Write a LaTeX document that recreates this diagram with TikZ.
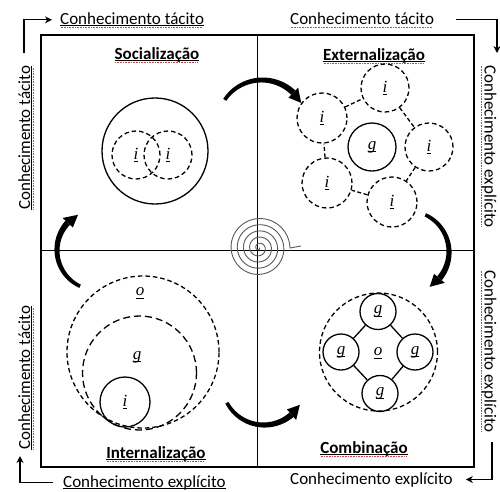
\documentclass[tikz,border=0pt]{standalone}
\usepackage{fontspec}
\setmainfont{Carlito}
\newfontfamily\serifit{Liberation Serif}
\usetikzlibrary{arrows.meta}
\definecolor{sp}{RGB}{200,70,70}
\newcommand\rdots[1]{\setbox0\hbox{#1}\rlap{\raisebox{-3.4pt}{\color{sp}\hbox to \wd0{\leaders\hbox to 1.6pt{\hss\rule{0.8pt}{0.7pt}\hss}\hfill}}}\box0}
\newcommand\bul[1]{\setbox0\hbox{#1}\rlap{\rule[-2pt]{\wd0}{0.6pt}}\box0}
\newcommand\ulit[1]{\setbox0\hbox{\serifit\itshape #1}\rlap{\rule[-2.5pt]{\wd0}{0.6pt}}\box0}
\newcommand\tarr[5]{%
  \pgfmathsetmacro\tad{sign((#5)-(#4))}%
  \pgfmathsetmacro\tae{#5+\tad*13/(#3)*57.2958}%
  \fill plot[domain=#4:#5,samples=40,variable=\t] ({#1+(#3+1.8+1.2*(\t-(#4))/((#5)-(#4)))*cos(\t)},{#2+(#3+1.8+1.2*(\t-(#4))/((#5)-(#4)))*sin(\t)})
     -- plot[domain=#5:#4,samples=40,variable=\t] ({#1+(#3-1.8-1.2*(\t-(#4))/((#5)-(#4)))*cos(\t)},{#2+(#3-1.8-1.2*(\t-(#4))/((#5)-(#4)))*sin(\t)}) -- cycle;
  \fill ({#1+(#3+7)*cos(#5)},{#2+(#3+7)*sin(#5)}) -- ({#1+(#3)*cos(\tae)},{#2+(#3)*sin(\tae)}) -- ({#1+(#3-7)*cos(#5)},{#2+(#3-7)*sin(#5)}) -- cycle;
}
\begin{document}
\begin{tikzpicture}[x=1pt,y=-1pt,
  lbl/.style={font=\fontsize{17}{20}\selectfont, inner sep=0pt},
  ttl/.style={font=\fontsize{17}{20}\selectfont\bfseries, inner sep=0pt, anchor=base},
  sc/.style={draw, circle, line width=1.3pt, inner sep=0pt, font=\fontsize{17}{20}\selectfont},
  dc/.style={sc, dash pattern=on 4.5pt off 3pt},
  lt/.style={inner sep=0pt, font=\fontsize{17}{20}\selectfont},
  arr/.style={line width=1.3pt, -{Stealth[length=7pt,width=7pt]}},
  frame/.style={line width=1.6pt}]
\useasboundingbox (0,0) rectangle (500,491);
\fill[white] (0,0) rectangle (500,491);

% frame
\draw[frame] (41,35) rectangle (474,467);
\draw[frame] (257.5,35) -- (257.5,467);
\draw[frame] (41,250.5) -- (474,250.5);

% outer labels
\node[lbl, anchor=base west] (tl) at (60,24) {\rdots{\bul{Conhecimento tácito}}};
\node[lbl, anchor=base west] (tr) at (290,24) {\rdots{Conhecimento tácito}};
\node[lbl, anchor=base west] (bl) at (63,487) {\bul{Conhecimento explícito}};
\node[lbl, anchor=base west] (br) at (290,484) {Conhecimento explícito};
\node[lbl, anchor=base west, rotate=90] (lt1) at (30,210) {\rdots{\bul{Conhecimento tácito}}};
\node[lbl, anchor=base west, rotate=90] (lt2) at (30,450) {\rdots{\bul{Conhecimento tácito}}};
\node[lbl, anchor=base west, rotate=-90] (rt1) at (484.5,65) {\rdots{Conhecimento explícito}};
\node[lbl, anchor=base west, rotate=-90] (rt2) at (484.5,270) {\rdots{Conhecimento explícito}};

\coordinate (tla) at (24,53);
\coordinate (tra) at (497,53);
\coordinate (brc) at (492,442);
\coordinate (bla) at (20,456);
\draw[arr] (tla) |- ([xshift=-8pt]tl.west);
\draw[arr] ([xshift=22pt]tr.east) -| (tra);
\draw[arr] (brc) |- ([xshift=13pt]br.east);
\draw[arr] ([xshift=-10pt]bl.west) -| (bla);

% titles
\node[ttl] (t1) at (157,59) {\rdots{\bul{Socialização}}};
\node[ttl] (t2) at (374,60) {\rdots{\bul{Externalização}}};
\node[ttl] (t3) at (156,458) {\rdots{\bul{Internalização}}};
\node[ttl] (t4) at (364,453) {\rdots{\bul{Combinação}}};

% Socializacao
\node[sc, minimum size=106pt] (s0) at (155,151) {};
\node[dc, minimum size=48pt] (s1) at (136,155) {\ulit{i}};
\node[dc, minimum size=48pt] (s2) at (168,155) {\ulit{i}};

% Externalizacao
\node[dc, minimum size=48pt] (e1) at (385,88) {\ulit{i}};
\node[dc, minimum size=50pt] (e2) at (322,118) {\ulit{i}};
\node[sc, minimum size=48pt] (eg) at (372,147) {\ulit{g}};
\node[dc, minimum size=48pt] (e3) at (429,147) {\ulit{i}};
\node[dc, minimum size=50pt] (e4) at (327,183) {\ulit{i}};
\node[dc, minimum size=50pt] (e5) at (392,202) {\ulit{i}};
\draw[line width=1.3pt, dash pattern=on 4pt off 2.5pt] (e2) -- (e1);
\draw[line width=1.3pt, dash pattern=on 4pt off 2.5pt] (e1) -- (e3);
\draw[line width=1.3pt, dash pattern=on 4pt off 2.5pt] (e3) -- (e5);
\draw[line width=1.3pt, dash pattern=on 4pt off 2.5pt] (e5) -- (e4);
\draw[line width=1.3pt, dash pattern=on 4pt off 2.5pt] (e4) -- (e2);

% Internalizacao
\node[dc, minimum size=152pt] (n0) at (143,352) {};
\node[dc, minimum size=114pt, dash pattern=on 7pt off 4pt] (n1) at (139.5,373) {};
\node[sc, minimum size=50pt] (n2) at (125,402) {\ulit{i}};
\node[lt] (no) at (140,293) {\ulit{o}};
\node[lt] (ng) at (137,357) {\ulit{g}};

% Combinacao
\node[dc, minimum size=118pt] (c0) at (378.5,352) {};
\node[sc, minimum size=36pt] (c1) at (378,311.5) {\ulit{g}};
\node[sc, minimum size=36pt] (c2) at (341,352) {\ulit{g}};
\node[sc, minimum size=36pt] (c3) at (415,352) {\ulit{g}};
\node[sc, minimum size=36pt] (c4) at (380,393.5) {\ulit{g}};
\node[lt] (co) at (378,353) {\ulit{o}};
\draw[line width=1.3pt] (c1) -- (c3) -- (c4) -- (c2) -- (c1);

% spiral
\draw[black!65, line width=0.9pt] plot[domain=0:1800, samples=500, smooth] ({259+\x/360*6.2*cos(\x)}, {248+\x/360*6.2*sin(\x)}) -- (301,246);

% curved arrows
\tarr{262}{125}{45}{214}{314}
\tarr{408}{252}{41}{-65}{40}
\tarr{264}{383}{42}{152}{49}
\tarr{97}{250}{40}{115}{223}
\end{tikzpicture}
\end{document}
